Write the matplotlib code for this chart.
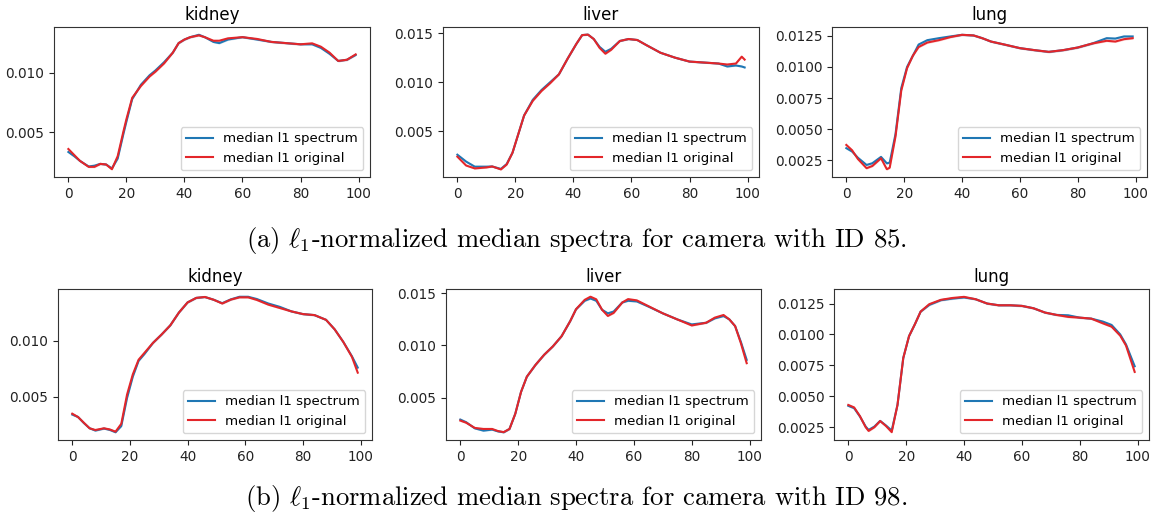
import matplotlib
matplotlib.use("Agg")
import matplotlib.pyplot as plt
import numpy as np

plt.rcParams["mathtext.fontset"] = "cm"

ORGANS = ["kidney", "liver", "lung"]
LABEL_SPECTRUM = "median l1 spectrum"
LABEL_ORIGINAL = "median l1 original"
CAPTIONS = [
    r"(a) $\ell_1$-normalized median spectra for camera with ID 85.",
    r"(b) $\ell_1$-normalized median spectra for camera with ID 98.",
]

# ---- camera 85 ----
kidney85_x = [0, 2, 4, 7, 9, 11, 13, 15, 17, 19, 20, 22, 25, 28, 30, 33, 36, 38, 40, 42, 45, 47,
              50, 52, 55, 60, 65, 70, 75, 80, 84, 87, 90, 93, 96, 99]
kidney85_spectrum = [0.00335, 0.0030, 0.0026, 0.00213, 0.0022, 0.00235, 0.0023, 0.00197, 0.0028,
                     0.0049, 0.0059, 0.0078, 0.0090, 0.0098, 0.0102, 0.0109, 0.0117, 0.0125, 0.0128,
                     0.0130, 0.0132, 0.0130, 0.0126, 0.0125, 0.0128, 0.0130, 0.0128, 0.0126, 0.0125,
                     0.0124, 0.0124, 0.0121, 0.0116, 0.0110, 0.0111, 0.0115]
kidney85_original = [0.0036, 0.0031, 0.0026, 0.0021, 0.0021, 0.00235, 0.0023, 0.0019, 0.0030,
                     0.0051, 0.0061, 0.0079, 0.0089, 0.0097, 0.0101, 0.0108, 0.0117, 0.0125, 0.0128,
                     0.0130, 0.01315, 0.0130, 0.0127, 0.0127, 0.0129, 0.0130, 0.01285, 0.0126, 0.0125,
                     0.0124, 0.01248, 0.0122, 0.0117, 0.0110, 0.0111, 0.01155]

liver85_x = [0, 3, 6, 10, 12, 15, 17, 19, 21, 23, 26, 29, 32, 35, 38, 41, 43, 45, 47, 49, 51, 53,
             56, 59, 62, 65, 70, 75, 80, 85, 90, 93, 96, 98, 99]
liver85_spectrum = [0.0026, 0.0019, 0.00138, 0.00138, 0.0014, 0.00115, 0.00165, 0.0028, 0.0047,
                    0.0066, 0.0082, 0.0092, 0.0100, 0.0108, 0.0124, 0.0139, 0.0148, 0.01485, 0.0144,
                    0.0136, 0.0131, 0.0134, 0.0142, 0.0144, 0.0143, 0.0138, 0.0130, 0.0125, 0.0121,
                    0.0120, 0.0119, 0.0116, 0.0117, 0.0116, 0.0115]
liver85_original = [0.0024, 0.0015, 0.0012, 0.0013, 0.0014, 0.0011, 0.0016, 0.0028, 0.0047,
                    0.0066, 0.0081, 0.0091, 0.0099, 0.0108, 0.0124, 0.0139, 0.0148, 0.01485, 0.0144,
                    0.0135, 0.0129, 0.0133, 0.0142, 0.0144, 0.0143, 0.0138, 0.0130, 0.0125, 0.0121,
                    0.0120, 0.0119, 0.0118, 0.0119, 0.0126, 0.0123]

lung85_x = [0, 2, 4, 7, 9, 12, 14, 15, 17, 19, 21, 23, 25, 28, 32, 36, 40, 44, 47, 50, 55, 60,
            65, 70, 75, 80, 85, 90, 93, 96, 99]
lung85_spectrum = [0.00347, 0.0032, 0.0027, 0.00212, 0.00226, 0.00277, 0.00225, 0.00231, 0.0046,
                   0.0083, 0.0100, 0.0109, 0.0118, 0.01215, 0.01231, 0.01245, 0.01258, 0.01253,
                   0.01231, 0.01204, 0.01178, 0.01151, 0.01135, 0.01121, 0.01135, 0.01156, 0.01188,
                   0.01231, 0.01228, 0.01245, 0.01245]
lung85_original = [0.00373, 0.0033, 0.0026, 0.00186, 0.00204, 0.00266, 0.00178, 0.0019, 0.0044,
                   0.0081, 0.0099, 0.0109, 0.0116, 0.01196, 0.01215, 0.0124, 0.01258, 0.01253,
                   0.01231, 0.01204, 0.01178, 0.01151, 0.01135, 0.01121, 0.01135, 0.01156, 0.01188,
                   0.0121, 0.01204, 0.01223, 0.01231]

# ---- camera 98 ----
kidney98_x = [0, 2, 4, 6, 8, 11, 13, 15, 17, 19, 21, 23, 25, 28, 31, 34, 37, 40, 43, 46, 49, 52,
              55, 58, 61, 64, 68, 72, 76, 80, 84, 88, 91, 94, 97, 99]
kidney98_spectrum = [0.00342, 0.00321, 0.00267, 0.00221, 0.0020, 0.00218, 0.00206, 0.00185, 0.0024,
                     0.0049, 0.0068, 0.0082, 0.0088, 0.0098, 0.01055, 0.01136, 0.0125, 0.0134, 0.0138,
                     0.01388, 0.01364, 0.01333, 0.01367, 0.0139, 0.0139, 0.0137, 0.0133, 0.0130,
                     0.0126, 0.01236, 0.01227, 0.01185, 0.0110, 0.00988, 0.0086, 0.0076]
kidney98_original = [0.0035, 0.0032, 0.0027, 0.0022, 0.00205, 0.0022, 0.0021, 0.0019, 0.0026,
                     0.0052, 0.0070, 0.0083, 0.0089, 0.0098, 0.01055, 0.01136, 0.0125, 0.0134, 0.0138,
                     0.01388, 0.01364, 0.0133, 0.01365, 0.01385, 0.01385, 0.01362, 0.0132, 0.0129,
                     0.0126, 0.01236, 0.01227, 0.01185, 0.0110, 0.00988, 0.00855, 0.00715]

liver98_x = [0, 2, 5, 8, 11, 13, 15, 17, 19, 21, 23, 26, 29, 32, 35, 38, 40, 43, 45, 47, 49, 51,
             53, 56, 58, 61, 65, 70, 75, 80, 85, 88, 91, 93, 95, 97, 99]
liver98_spectrum = [0.0029, 0.00265, 0.00206, 0.00184, 0.00194, 0.00177, 0.00168, 0.0020, 0.00345,
                    0.00555, 0.0070, 0.00813, 0.0091, 0.0099, 0.01087, 0.01232, 0.01345, 0.01426,
                    0.01448, 0.01426, 0.0134, 0.01306, 0.01323, 0.0141, 0.01426, 0.0142, 0.01371,
                    0.01306, 0.01248, 0.0120, 0.01216, 0.01258, 0.0128, 0.01248, 0.01184, 0.01032,
                    0.00861]
liver98_original = [0.0028, 0.0026, 0.0021, 0.0020, 0.0020, 0.0018, 0.0017, 0.0020, 0.00345,
                    0.00555, 0.0070, 0.00813, 0.0091, 0.0099, 0.01087, 0.01232, 0.01345, 0.01435,
                    0.01465, 0.0144, 0.0134, 0.01281, 0.0131, 0.0141, 0.01442, 0.0143, 0.01375,
                    0.01306, 0.01248, 0.0119, 0.01216, 0.01265, 0.0129, 0.01248, 0.01184, 0.0102,
                    0.00829]

lung98_x = [0, 2, 4, 6, 7, 9, 11, 13, 15, 17, 19, 21, 23, 25, 28, 32, 36, 40, 44, 48, 52, 56, 60,
            64, 68, 72, 76, 80, 84, 88, 91, 94, 96, 99]
lung98_spectrum = [0.00423, 0.00404, 0.00337, 0.00255, 0.00228, 0.00255, 0.00301, 0.00264, 0.00223,
                   0.0043, 0.0081, 0.00987, 0.01082, 0.01185, 0.01239, 0.01277, 0.0129, 0.01299,
                   0.01285, 0.0125, 0.01236, 0.01236, 0.01231, 0.01212, 0.01177, 0.01158, 0.01155,
                   0.01136, 0.01128, 0.01104, 0.01077, 0.0100, 0.00919, 0.00743]
lung98_original = [0.0043, 0.0041, 0.0034, 0.0025, 0.0022, 0.0025, 0.0030, 0.0026, 0.0021,
                   0.0043, 0.0081, 0.00987, 0.01082, 0.01185, 0.01245, 0.0128, 0.01295, 0.01304,
                   0.01285, 0.0125, 0.01236, 0.01236, 0.01231, 0.01212, 0.01177, 0.01158, 0.01142,
                   0.01136, 0.01128, 0.0109, 0.01063, 0.0099, 0.0091, 0.00697]

# half-width of the shaded spread around each median curve
SPREAD = 0.00008

ROWS = [
    [(kidney85_x, kidney85_spectrum, kidney85_original),
     (liver85_x, liver85_spectrum, liver85_original),
     (lung85_x, lung85_spectrum, lung85_original)],
    [(kidney98_x, kidney98_spectrum, kidney98_original),
     (liver98_x, liver98_spectrum, liver98_original),
     (lung98_x, lung98_spectrum, lung98_original)],
]

BLUE = "#1f77b4"
RED = "#e3262a"

W, H = 1154, 515
fig = plt.figure(figsize=(W / 100, H / 100), dpi=100)

# axes boxes in pixels: (left, top, right, bottom)
boxes = [
    [(54, 27, 370, 177), (443, 27, 759, 177), (832, 27, 1147, 177)],
    [(58, 289, 372, 440), (446, 289, 761, 440), (834, 289, 1149, 440)],
]
caption_y = [240, 498]

for r, row in enumerate(ROWS):
    for c, (xs, spec, orig) in enumerate(row):
        l, t, rr, b = boxes[r][c]
        ax = fig.add_axes([l / W, 1 - b / H, (rr - l) / W, (b - t) / H])
        xs = np.asarray(xs)
        spec = np.asarray(spec)
        orig = np.asarray(orig)
        ax.fill_between(xs, spec - SPREAD, spec + SPREAD, color=BLUE, alpha=0.2, lw=0)
        ax.fill_between(xs, orig - SPREAD, orig + SPREAD, color=RED, alpha=0.2, lw=0)
        ax.plot(xs, spec, color=BLUE, lw=1.5, label=LABEL_SPECTRUM)
        ax.plot(xs, orig, color=RED, lw=1.5, label=LABEL_ORIGINAL)
        ax.set_xticks([0, 20, 40, 60, 80, 100])
        ax.tick_params(labelsize=9.8, colors="#222222")
        ax.set_title(ORGANS[c], fontsize=12, pad=5)
        ax.legend(loc="lower right", fontsize=9.6)
        for s in ax.spines.values():
            s.set_color("#333333")
    fig.text(576 / W, 1 - caption_y[r] / H, CAPTIONS[r], ha="center", va="center",
             fontsize=19.2, family="cmr10")

fig.savefig("out.png", dpi=100)
